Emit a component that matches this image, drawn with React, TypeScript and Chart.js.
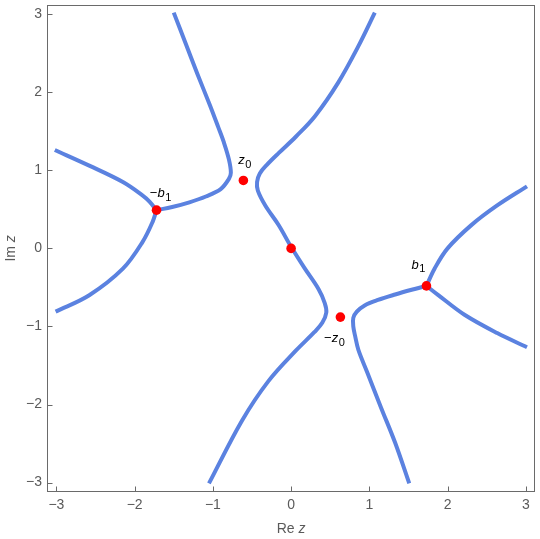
import React, { useEffect, useRef } from "react";
import { Chart, registerables } from "chart.js";

Chart.register(...registerables);

// ---- data ----
const xTicks = [-3, -2, -1, 0, 1, 2, 3];
const yTicks = [-3, -2, -1, 0, 1, 2, 3];
const axisMin = -3.12;
const axisMax = 3.12;

// curves (Re z, Im z)
const curveTopLeft: [number, number][] = [
  [-1.5, 3.02], [-1.35, 2.63], [-1.2, 2.24], [-1.04, 1.84], [-0.93, 1.55], [-0.86, 1.36],
  [-0.795, 1.14], [-0.77, 0.97], [-0.795, 0.89], [-0.9, 0.76], [-1.09, 0.665], [-1.3, 0.59],
  [-1.52, 0.53], [-1.72, 0.49],
];
const curveLeftUpper: [number, number][] = [
  [-3.02, 1.26], [-2.58, 1.06], [-2.15, 0.85], [-1.9, 0.68], [-1.81, 0.6], [-1.72, 0.49],
];
const curveLeftLower: [number, number][] = [
  [-1.72, 0.49], [-1.77, 0.34], [-1.9, 0.08], [-2.15, -0.26], [-2.58, -0.6], [-3.01, -0.81],
];
const curveCentral: [number, number][] = [
  [1.07, 3.02], [0.86, 2.59], [0.6, 2.12], [0.31, 1.7], [0.06, 1.43], [-0.16, 1.22],
  [-0.31, 1.07], [-0.4, 0.96], [-0.435, 0.85], [-0.425, 0.74], [-0.33, 0.55], [-0.16, 0.3],
  [0, 0.02], [0.17, -0.25], [0.35, -0.52], [0.43, -0.7], [0.45, -0.82], [0.4, -0.95],
  [0.3, -1.07], [0.06, -1.31], [-0.29, -1.7], [-0.63, -2.21], [-1.05, -3.01],
];
const curveRightUpper: [number, number][] = [
  [1.73, -0.48], [1.835, -0.257], [2.0, 0.0], [2.3, 0.295], [2.634, 0.55], [3.015, 0.795],
];
const curveRightLower: [number, number][] = [
  [1.73, -0.48], [1.877, -0.595], [2.216, -0.85], [2.634, -1.084], [3.015, -1.266],
];
const curveBottomRight: [number, number][] = [
  [1.73, -0.48], [1.54, -0.53], [1.33, -0.59], [1.11, -0.66], [0.94, -0.73], [0.84, -0.81],
  [0.795, -0.89], [0.795, -1.0], [0.82, -1.13], [0.86, -1.3], [0.97, -1.58], [1.15, -2.04],
  [1.33, -2.49], [1.51, -3.01],
];

// marked points
const markerX = [0, -0.61, 0.63, 1.73, -1.72];
const markerY = [0, 0.87, -0.88, -0.48, 0.49];
const markerPrefix = ["", "", "−", "", "−"];
const markerLetter = ["", "z", "z", "b", "b"];
const markerSub = ["", "0", "0", "1", "1"];

// ---- styles ----
const BLUE = "#5b82e0";
const FRAME = "#6a6a6a";
const TICK_COLOR = "#5a5a5a";
const FONT = "'Liberation Sans', Arial, sans-serif";
// label offsets in pixels (dx center, dy baseline) relative to marker
const labelOffsets: [number, number][] = [
  [0, 0], [1.5, -16], [-6, 25], [-8, -17], [4, -13],
];

const fmt = (v: number) => (v < 0 ? "\u2212" + Math.abs(v) : String(v));

export default function App() {
  const ref = useRef<HTMLCanvasElement>(null);
  useEffect(() => {
    document.body.style.margin = "0";
    const canvas = ref.current!;
    const curves = [
      curveTopLeft, curveLeftUpper, curveLeftLower, curveCentral,
      curveRightUpper, curveRightLower, curveBottomRight,
    ];
    const datasets: any[] = curves.map((c) => ({
      data: c.map(([x, y]) => ({ x, y })),
      showLine: true,
      borderColor: BLUE,
      borderWidth: 4,
      pointRadius: 0,
      pointHoverRadius: 0,
      tension: 0.35,
      fill: false,
      borderCapStyle: "butt",
      borderJoinStyle: "round",
      order: 2,
    }));
    datasets.push({
      data: markerX.map((x, i) => ({ x, y: markerY[i] })),
      showLine: false,
      pointRadius: 4.8,
      pointBackgroundColor: "#ff0000",
      pointBorderWidth: 0,
      pointBorderColor: "#ff0000",
      order: 0,
    });

    const framePlugin = {
      id: "framePlugin",
      afterDraw(chart: any) {
        const { ctx, chartArea } = chart;
        const xs = chart.scales.x;
        const ys = chart.scales.y;
        ctx.save();
        ctx.strokeStyle = FRAME;
        ctx.lineWidth = 1;
        ctx.strokeRect(
          Math.round(chartArea.left) + 0.5,
          Math.round(chartArea.top) + 0.5,
          Math.round(chartArea.right - chartArea.left) - 1,
          Math.round(chartArea.bottom - chartArea.top) - 1
        );
        // inward ticks
        ctx.beginPath();
        const b = Math.round(chartArea.bottom) - 0.5;
        xTicks.forEach((v) => {
          const px = Math.round(xs.getPixelForValue(v)) + 0.5;
          ctx.moveTo(px, b);
          ctx.lineTo(px, b - 5);
        });
        const l = Math.round(chartArea.left) + 0.5;
        yTicks.forEach((v) => {
          const py = Math.round(ys.getPixelForValue(v)) + 0.5;
          ctx.moveTo(l, py);
          ctx.lineTo(l + 5, py);
        });
        ctx.stroke();

        // axis titles
        ctx.fillStyle = TICK_COLOR;
        ctx.textBaseline = "alphabetic";
        const upF = `14px ${FONT}`;
        const itF = `italic 14px ${FONT}`;
        const drawTitle = (pre: string, it: string) => {
          ctx.font = upF;
          const w1 = ctx.measureText(pre).width;
          ctx.font = itF;
          const w2 = ctx.measureText(it).width;
          const start = -(w1 + w2) / 2;
          ctx.font = upF;
          ctx.fillText(pre, start, 0);
          ctx.font = itF;
          ctx.fillText(it, start + w1, 0);
        };
        const cx = (chartArea.left + chartArea.right) / 2;
        ctx.save();
        ctx.translate(cx, 533);
        drawTitle("Re ", "z");
        ctx.restore();
        const cy = (chartArea.top + chartArea.bottom) / 2;
        ctx.save();
        ctx.translate(14.5, cy);
        ctx.rotate(-Math.PI / 2);
        drawTitle("Im ", "z");
        ctx.restore();

        // point labels
        ctx.fillStyle = "#000000";
        markerX.forEach((mx, i) => {
          if (!markerLetter[i]) return;
          const px = xs.getPixelForValue(mx) + labelOffsets[i][0];
          const py = ys.getPixelForValue(markerY[i]) + labelOffsets[i][1];
          const preF = `13px ${FONT}`;
          const letF = `italic 13px ${FONT}`;
          const subF = `11px ${FONT}`;
          ctx.font = preF;
          const w0 = ctx.measureText(markerPrefix[i]).width;
          ctx.font = letF;
          const w1 = ctx.measureText(markerLetter[i]).width;
          ctx.font = subF;
          const w2 = ctx.measureText(markerSub[i]).width;
          let x0 = px - (w0 + w1 + w2 + 0.5) / 2;
          ctx.font = preF;
          ctx.fillText(markerPrefix[i], x0, py);
          x0 += w0;
          ctx.font = letF;
          ctx.fillText(markerLetter[i], x0, py);
          x0 += w1 + 0.5;
          ctx.font = subF;
          ctx.fillText(markerSub[i], x0, py + 3.5);
        });
        ctx.restore();
      },
    };

    const chart = new Chart(canvas, {
      type: "scatter",
      data: { datasets },
      options: {
        animation: false,
        responsive: false,
        maintainAspectRatio: false,
        events: [],
        layout: { padding: { top: 1, right: 1, left: 0, bottom: 0 } },
        plugins: {
          legend: { display: false },
          tooltip: { enabled: false },
        },
        scales: {
          x: {
            type: "linear",
            min: axisMin,
            max: axisMax,
            afterBuildTicks: (s: any) => {
              s.ticks = xTicks.map((v) => ({ value: v }));
            },
            afterFit: (s: any) => {
              s.height = 47;
              s.paddingLeft = 0;
              s.paddingRight = 0;
            },
            grid: { display: false, drawTicks: false },
            border: { display: false },
            ticks: {
              callback: (v: any) => fmt(Number(v)),
              color: TICK_COLOR,
              font: { family: FONT, size: 14 },
              padding: 5,
              maxRotation: 0,
              autoSkip: false,
            },
          },
          y: {
            type: "linear",
            min: axisMin,
            max: axisMax,
            afterBuildTicks: (s: any) => {
              s.ticks = yTicks.map((v) => ({ value: v }));
            },
            afterFit: (s: any) => {
              s.width = 47;
              s.paddingTop = 0;
              s.paddingBottom = 0;
            },
            grid: { display: false, drawTicks: false },
            border: { display: false },
            ticks: {
              callback: (v: any) => fmt(Number(v)),
              color: TICK_COLOR,
              font: { family: FONT, size: 14 },
              padding: 5,
              autoSkip: false,
            },
          },
        },
      },
      plugins: [framePlugin],
    } as any);
    return () => chart.destroy();
  }, []);

  return (
    <div style={{ position: "absolute", left: 0, top: 0, width: 540, height: 539, background: "#fff" }}>
      <canvas ref={ref} width={540} height={539} style={{ width: 540, height: 539, display: "block" }} />
    </div>
  );
}
